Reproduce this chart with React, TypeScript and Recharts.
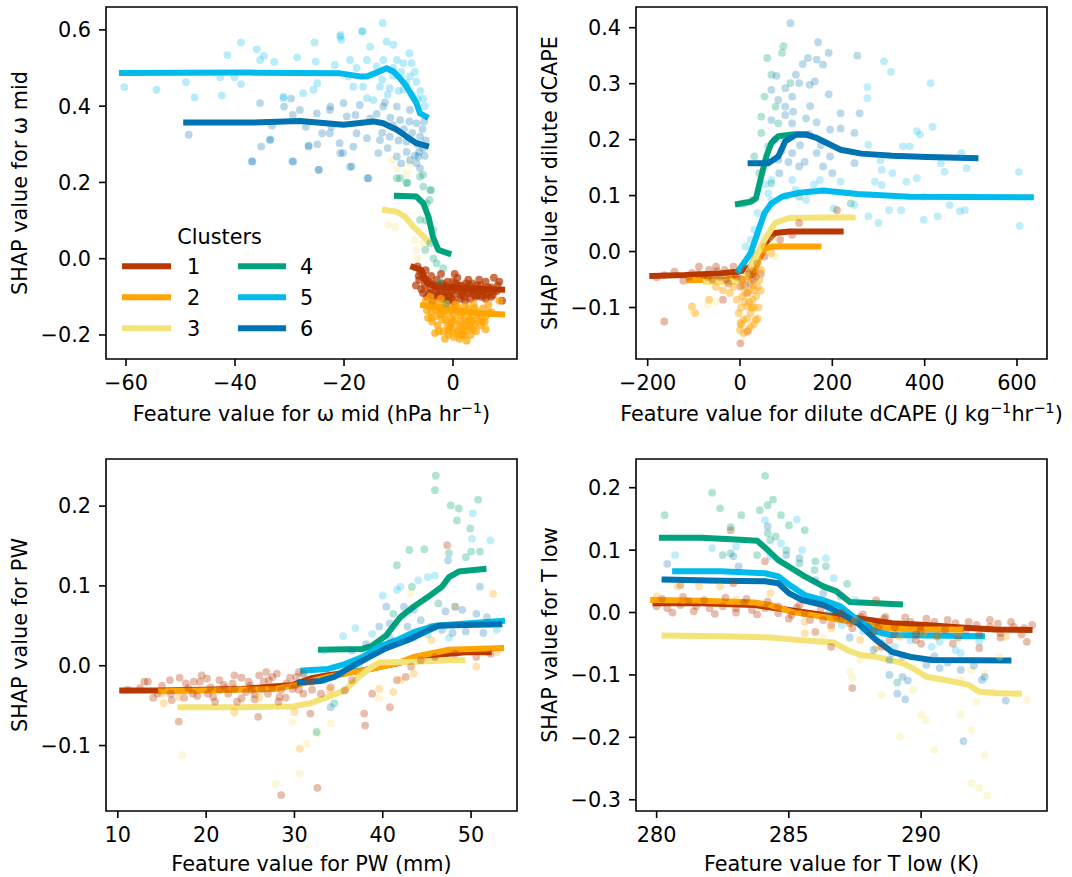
import React from 'react';
import { ComposedChart, Scatter, Line, XAxis, YAxis, ReferenceArea, Legend, Label } from 'recharts';

// ---------- clusters ----------
const CLUSTER_NAMES = ['1', '2', '3', '4', '5', '6'];
const CLUSTER_COLORS = ['#b83800', '#ffa400', '#f4e379', '#00a37b', '#00bbec', '#0073b3'];

// ---------- Panel 1 : omega mid ----------
const OMEGA_X_TICKS = [-60, -40, -20, 0];
const OMEGA_Y_TICKS = [-0.2, 0, 0.2, 0.4, 0.6];
const omegaPts1 = [-6.5,-0.02,-6,-0.035,-5.5,-0.05,-5,-0.03,-4.5,-0.06,-4,-0.045,-3.5,-0.07,-3,-0.055,-2.5,-0.08,-2,-0.065,-1.5,-0.09,-1,-0.06,-0.5,-0.075,0,-0.095,0.5,-0.065,1,-0.085,1.5,-0.07,2,-0.1,2.5,-0.075,3,-0.09,3.5,-0.065,4,-0.08,4.5,-0.095,5,-0.07,5.5,-0.085,6,-0.06,6.5,-0.09,7,-0.075,7.5,-0.05,8,-0.085,-5.5,-0.09,-4.8,-0.1,-3.8,-0.11,-2.8,-0.1,-1.8,-0.105,-0.8,-0.11,0.2,-0.115,1.2,-0.105,2.2,-0.11,3.2,-0.105,4.2,-0.1,5.2,-0.1,6.2,-0.095,-3.2,-0.085,-1.2,-0.08,0.8,-0.05,2.8,-0.055,4.8,-0.055,-6.8,-0.07,-5.8,-0.08,9,-0.11,8.5,-0.06,-2.2,-0.04,0.3,-0.04,-4.2,-0.08,-2.6,-0.095,-0.3,-0.085,1.7,-0.09,3.7,-0.085,5.7,-0.08,7.3,-0.095,-6.2,-0.055,-1.4,-0.07,2.4,-0.065,
  -6.3,-0.045,-5.2,-0.07,-4.4,-0.09,-3.6,-0.095,-2.4,-0.07,-1.6,-0.1,-0.6,-0.095,0.4,-0.08,1.4,-0.095,2.6,-0.09,3.4,-0.08,4.4,-0.07,5.4,-0.095,6.4,-0.075,7.4,-0.085,8.2,-0.07,0,-0.06,1,-0.07,2,-0.08,3,-0.07,4,-0.095,5,-0.085,6,-0.105,7,-0.1,-1,-0.1,-2,-0.09,-3,-0.075,-4,-0.065,-5,-0.055,-0.2,-0.105];
const omegaPts2 = [-5,-0.11,-4.5,-0.125,-4,-0.14,-3.5,-0.115,-3,-0.15,-2.5,-0.13,-2,-0.16,-1.5,-0.14,-1,-0.175,-0.5,-0.155,0,-0.185,0.5,-0.16,1,-0.19,1.5,-0.17,2,-0.2,2.5,-0.165,3,-0.18,3.5,-0.15,4,-0.17,4.5,-0.14,5,-0.155,5.5,-0.13,6,-0.15,6.5,-0.12,7,-0.14,-3.8,-0.165,-2.8,-0.175,-1.8,-0.19,-0.8,-0.2,0.2,-0.205,1.2,-0.21,2.2,-0.19,3.2,-0.2,4.2,-0.19,-1.2,-0.12,0.8,-0.125,2.8,-0.13,-2.2,-0.105,1.8,-0.14,3.8,-0.12,-0.2,-0.135,-4.2,-0.1,-1.5,-0.21,2.5,-0.215,8.5,-0.11,6,-0.185,-3.3,-0.195,-2.4,-0.145,-0.4,-0.17,1.4,-0.15,3.4,-0.165,5.4,-0.165,-4.6,-0.155,
  -4.8,-0.135,-4,-0.155,-3.2,-0.135,-2.6,-0.19,-2,-0.145,-1.4,-0.16,-0.6,-0.18,0,-0.165,0.6,-0.195,1.2,-0.175,1.8,-0.185,2.4,-0.175,3,-0.16,3.6,-0.185,4.4,-0.16,5,-0.175,5.8,-0.165,6.6,-0.14,-1,-0.135,0,-0.145,1,-0.14,2,-0.155,3,-0.14,4,-0.13,-2.5,-0.12,0.4,-0.12,2.2,-0.125,-0.8,-0.19,1.6,-0.2];
const omegaPts3 = [-11.9,0.089,-10.6,0.084,-10.3,0.237,-8.5,0.224,-7.0,0.049,-6.7,0.023,-5.45,0.04,-11.2,0.26,-8.0,0.25,-6.5,0.0];
const omegaPts4 = [-8.5,0.198,-10.3,0.211,-5.45,0.189,-4.2,0.18,-6.05,0.215,-4.8,0.145,-6.05,0.102,-3.6,0.075,-4.2,0.04,-5.1,0.023,-3.6,0.001,-1.8,-0.025,-2.4,-0.06,-1.2,-0.117,-3.0,-0.012,-9.7,0.211,-8.4,0.2,-5.5,0.22,-4.0,0.18,-4.3,0.154,-5.0,0.1];
const omegaPts5 = [-60.3,0.45,-54.4,0.443,-49.0,0.463,-47.4,0.423,-41.4,0.534,-42.7,0.476,-42.4,0.428,-38.9,0.567,-38.9,0.458,-40.1,0.476,-36.0,0.549,-35.4,0.521,-34.7,0.532,-32.8,0.516,-31.1,0.425,-28.6,0.528,-27.5,0.434,-25.6,0.443,-25.4,0.567,-25.2,0.517,-24.9,0.46,-21.7,0.508,-20.6,0.587,-20.5,0.574,-19.2,0.478,-16.7,0.596,-12.9,0.618,-20.7,0.582,-16.6,0.597,-12.2,0.569,-10.95,0.561,-15.2,0.556,-8.0,0.539,-15.8,0.521,-18.9,0.521,-12.8,0.521,-10.3,0.521,-9.1,0.513,-7.6,0.513,-17.7,0.5,-14.0,0.504,-10.95,0.5,-7.9,0.478,-6.7,0.464,-18.3,0.451,-16.5,0.451,-13.4,0.451,-11.6,0.447,-9.1,0.443,-15.8,0.421,-14.6,0.416,-31.1,0.421,-5.5,0.42,-5.2,0.4,-6.0,0.44,
  -13,0.47,-12,0.43,-11,0.48,-10,0.44,-9.5,0.49,-8.5,0.46,-7.5,0.43,-7,0.49,-6.5,0.42];
const omegaPts6 = [-48.5,0.325,-36.8,0.255,-35.2,0.294,-33.5,0.313,-33.2,0.349,-35.4,0.408,-31.0,0.399,-29.7,0.42,-29.4,0.377,-29.5,0.255,-28.1,0.39,-27.0,0.346,-26.5,0.297,-24.9,0.3,-24.6,0.233,-24.0,0.329,-22.5,0.399,-22.3,0.346,-20.8,0.303,-20.2,0.277,-18.6,0.242,-17.9,0.377,-15.7,0.211,-20.1,0.408,-17.1,0.403,-12.8,0.399,-10.3,0.399,-7.9,0.39,-22.6,0.39,-25.0,0.381,-19.5,0.373,-15.2,0.368,-9.7,0.364,-6.7,0.355,-22.6,0.329,-17.7,0.329,-15.8,0.316,-13.4,0.311,-11.6,0.32,-8.5,0.307,-6.05,0.32,-20.7,0.277,-18.3,0.294,-13.7,0.277,-10.3,0.268,-7.9,0.259,-6.4,0.268,-6.7,0.25,-6.05,0.237,-18.9,0.241,-15.5,0.211,-24.7,0.233,-26.5,0.294,-29.3,0.255,-33.6,0.311,-36.9,0.255,-5.5,0.29,-5.2,0.27,-6.2,0.28,-5.0,0.31,-5.6,0.34,-5.3,0.36,
  -13,0.33,-12,0.29,-11,0.35,-10,0.31,-9,0.34,-8.5,0.28,-7.5,0.33,-7,0.27,-6.5,0.3,-9.5,0.25,-11.5,0.37,-14,0.38,-12.5,0.41,-8,0.36];
const omegaLine1 = [-7.3,-0.022,-5.75,-0.03,-4.8,-0.064,-3,-0.073,2.5,-0.078,9,-0.081];
const omegaLine2 = [-5.5,-0.122,-2,-0.128,2,-0.138,5,-0.144,9,-0.146];
const omegaLine3 = [-12.5,0.128,-10.3,0.123,-8.8,0.11,-7.3,0.084,-6.05,0.067,-4.5,0.045];
const omegaLine4 = [-10.3,0.165,-6.7,0.163,-5.45,0.145,-4.5,0.11,-3.7,0.058,-2.7,0.023,-0.85,0.014];
const omegaLine5 = [-60.75,0.487,-37.2,0.488,-20.7,0.486,-17.1,0.478,-15.8,0.478,-14,0.488,-12.2,0.4995,-10.95,0.491,-9.7,0.473,-8.5,0.451,-6.7,0.408,-6.05,0.381,-5.0,0.373];
const omegaLine6 = [-48.95,0.357,-37.2,0.357,-28.1,0.361,-20.1,0.351,-14.6,0.36,-12.8,0.355,-10.3,0.338,-8.5,0.32,-6.7,0.303,-4.95,0.296];

// ---------- Panel 2 : dilute dCAPE ----------
const DCAPE_X_TICKS = [-200, 0, 200, 400, 600];
const DCAPE_Y_TICKS = [-0.1, 0, 0.1, 0.2, 0.3, 0.4];
const dcapePts1 = [-164,-0.042,-142,-0.036,-123,-0.052,-104,-0.038,-89,-0.027,-78,-0.042,-67,-0.033,-52,-0.027,-44,-0.045,-33,-0.033,-25,-0.057,-14,-0.027,-7,-0.045,1,-0.063,12,-0.03,16,-0.074,23,-0.057,34,-0.045,38,-0.021,-164,-0.125,-37,-0.086,1,-0.164,16,-0.143,53,-0.009,87,0.021,113,0.03,128,0.051,210,0.074,-180,-0.046,-60,-0.05,-20,-0.04,5,-0.05,28,-0.035,
  -10,-0.04,-30,-0.05,-50,-0.035,-70,-0.045,-90,-0.04,-110,-0.045,20,-0.04,30,-0.05,45,-0.04,10,-0.06];
const dcapePts2 = [-104,-0.098,-97,-0.11,-67,-0.086,-37,-0.069,-14,-0.063,-7,-0.086,-3,-0.11,1,-0.128,0,-0.14,8,-0.122,16,-0.098,23,-0.11,27,-0.086,31,-0.069,38,-0.063,34,-0.122,23,-0.134,8,-0.146,42,-0.051,46,-0.033,12,-0.074,-22,-0.074,-52,-0.063,53,0.009,68,-0.003,2,-0.1,20,-0.09,30,-0.1,5,-0.08,
  5,-0.06,10,-0.09,15,-0.12,20,-0.07,25,-0.1,30,-0.13,35,-0.08,40,-0.1,45,-0.07,3,-0.13,18,-0.14,28,-0.06,38,-0.12,12,-0.05];
const dcapePts3 = [-70,-0.095,-52,-0.089,-104,-0.104,76,-0.009,72,0.021,40,-0.02];
const dcapePts4 = [94,0.367,91,0.355,59,0.346,68,0.316,109,0.301,53,0.277,77,0.259,46,0.241,83,0.229,46,0.212,31,0.17,61,0.188,42,0.14,68,0.122,27,0.092,8,0.086,240,0.086,128,0.098];
const dcapePts5 = [312,0.34,327,0.321,413,0.301,276,0.294,276,0.274,417,0.223,383,0.215,390,0.209,278,0.191,353,0.188,368,0.188,304,0.163,307,0.146,330,0.14,435,0.158,443,0.143,480,0.176,491,0.149,604,0.142,292,0.125,307,0.119,360,0.125,383,0.131,218,0.125,173,0.128,113,0.128,68,0.128,61,0.104,143,0.092,203,0.077,248,0.083,323,0.074,349,0.074,398,0.098,454,0.083,476,0.072,487,0.074,398,0.057,428,0.063,278,0.063,300,0.051,606,0.046,68,0.092,38,0.069,31,0.039,23,0.021,12,0.009,100,0.1,120,0.11,160,0.12,55,0.12];
const dcapePts6 = [109,0.408,169,0.374,192,0.355,254,0.35,147,0.346,166,0.343,180,0.334,136,0.335,79,0.314,121,0.316,162,0.304,128,0.301,151,0.298,68,0.289,98,0.292,113,0.277,192,0.281,83,0.271,98,0.259,152,0.26,115,0.25,98,0.244,218,0.247,259,0.247,143,0.238,68,0.235,113,0.229,166,0.231,195,0.218,218,0.22,248,0.212,166,0.176,195,0.17,113,0.176,83,0.164,128,0.152,180,0.152,248,0.158,75,0.2,90,0.18,105,0.16,130,0.19,150,0.21,85,0.14,140,0.16,175,0.19,200,0.14,60,0.16];
const dcapeLine1 = [-190,-0.0435,-119,-0.042,-44,-0.039,-7,-0.036,8,-0.034,23,-0.027,38,-0.003,61,0.021,76,0.033,106,0.036,218,0.036];
const dcapeLine2 = [-110,-0.051,-30,-0.05,0,-0.048,20,-0.045,30,-0.04,40,-0.015,55,0.005,70,0.009,170,0.009];
const dcapeLine3 = [-74,-0.054,-7,-0.054,12,-0.045,31,-0.015,53,0.021,76,0.051,106,0.06,180,0.061,244,0.061];
const dcapeLine4 = [-4.5,0.085,23,0.089,34.5,0.095,46,0.134,57,0.17,68,0.194,83,0.206,113,0.209,143,0.209];
const dcapeLine5 = [-3,-0.034,8,-0.021,23,-0.003,38,0.033,53,0.069,68,0.086,91,0.098,128,0.105,180,0.109,255,0.103,368,0.098,630,0.097];
const dcapeLine6 = [23,0.158,61,0.158,83,0.17,98,0.197,121,0.209,143,0.209,166,0.203,188,0.194,218,0.182,263,0.175,330,0.171,405,0.169,510,0.167];

// ---------- Panel 3 : PW ----------
const PW_X_TICKS = [10, 20, 30, 40, 50];
const PW_Y_TICKS = [-0.1, 0, 0.1, 0.2];
const pwPts1 = [11.1,-0.03,13.4,-0.02,15.9,-0.018,16.1,-0.043,16.9,-0.07,17.7,-0.022,18.5,-0.035,20.1,-0.016,20.8,-0.039,22.0,-0.024,23.2,-0.012,24.0,-0.041,24.8,-0.02,25.9,-0.064,26.3,-0.029,27.5,-0.014,28.3,-0.039,28.5,-0.162,29.1,-0.022,30.2,-0.014,31.0,-0.01,31.8,-0.06,32.6,-0.153,33.0,-0.035,34.1,-0.027,35.7,-0.031,36.5,-0.018,37.9,-0.06,38.0,-0.075,38.8,-0.035,40.8,-0.052,41.6,-0.018,42.6,-0.014,43.2,-0.001,44.3,0.007,45.9,0.011,47.3,0.151,48.2,0.015,50.6,0.011,52.2,0.015,19.3,-0.02,23.2,-0.029,29.8,-0.029,27.1,-0.018,12.5,-0.028,14.5,-0.035,21.5,-0.03,25.5,-0.036,30.5,-0.03,32,-0.02,
  13,-0.02,14,-0.04,15,-0.025,16,-0.035,17,-0.015,17.5,-0.04,18,-0.028,19,-0.038,19.5,-0.012,20.5,-0.027,21,-0.045,21.5,-0.018,22.5,-0.035,23,-0.022,23.5,-0.045,24,-0.015,24.5,-0.033,25,-0.025,25.5,-0.042,26,-0.012,26.5,-0.02,27,-0.035,27.5,-0.027,28,-0.01,28.5,-0.03,29,-0.04,29.5,-0.015,30,-0.025,30.5,-0.008,31,-0.035,31.5,-0.02,32,-0.03,28.2,-0.045,26.8,-0.008,25.2,-0.03,22.2,-0.028,20.2,-0.035,18.6,-0.02];
const pwPts2 = [15,-0.035,15.2,-0.047,16.9,-0.039,23.2,-0.058,30.0,-0.058,30.6,-0.104,39.6,-0.029,41.2,-0.033,42,-0.018,43.5,-0.01,45.5,0.032,48.2,0.074,52.5,0.09,52.9,0.017,50.6,-0.001,26,-0.04,34,-0.03];
const pwPts3 = [17.3,-0.112,23.2,-0.059,29.8,-0.07,27.9,-0.148,31.4,-0.098,32.6,-0.085,34.1,-0.072,43.2,0.091,39.6,-0.04,30.6,-0.135];
const pwPts4 = [46.0,0.238,45.9,0.22,47.7,0.201,48.6,0.197,48.4,0.182,50.8,0.208,49.9,0.172,43.0,0.145,44.7,0.146,41.6,0.126,47.5,0.141,50.0,0.143,51.0,0.143,49.4,0.136,43.3,0.099,41.2,0.065,34.5,-0.047,32.5,-0.083,46.3,0.078];
const pwPts5 = [50.2,0.191,50.1,0.159,52.2,0.157,40.0,0.088,41.6,0.095,42,0.099,44,0.107,45.1,0.111,45.9,0.113,36.9,0.047,35.5,0.037,38.8,0.04,33.4,0.019,31.1,-0.01,37.3,-0.001,42,0.031,45.1,0.039,52.9,0.045,47.5,0.035];
const pwPts6 = [47.4,0.132,51.0,0.099,40.4,0.074,42.4,0.074,43.5,0.07,47.1,0.068,48.2,0.074,49,0.07,50.6,0.065,51.8,0.061,39.6,0.049,40.8,0.053,42.8,0.049,44.3,0.057,45.5,0.049,46.7,0.045,47.9,0.041,49.4,0.043,51.4,0.041,36.5,0.019,38.1,0.027,40.8,0.035,43.5,0.035,33.4,-0.018,34.1,-0.052,35.3,-0.01];
const pwLine1 = [10.5,-0.031,15,-0.031,24,-0.029,29.8,-0.024,31.8,-0.016,33.8,-0.012,37.7,-0.006,41.6,0.003,45.5,0.013,49.4,0.017,52,0.017];
const pwLine2 = [14.9,-0.032,20,-0.031,27.9,-0.029,30.2,-0.024,33.8,-0.014,37.7,-0.006,41.6,0.003,43.5,0.011,47.5,0.02,53.4,0.022];
const pwLine3 = [17.1,-0.052,24,-0.052,29.8,-0.051,31.8,-0.047,33.8,-0.039,35.7,-0.031,37.3,-0.014,38.8,-0.001,39.6,0.004,43.5,0.005,47.5,0.007,49,0.007];
const pwLine4 = [33,0.02,37.7,0.021,38.8,0.025,40.4,0.038,42,0.061,43.5,0.074,45.1,0.086,46.7,0.099,47.5,0.111,48.6,0.118,51.4,0.121];
const pwLine5 = [31,-0.006,33.8,-0.004,35.7,0.002,37.7,0.011,39.6,0.024,41.6,0.032,43.5,0.042,45.9,0.05,49.4,0.053,53.5,0.056];
const pwLine6 = [30.6,-0.021,33,-0.019,34.5,-0.014,36.5,-0.001,38.5,0.011,40.4,0.022,42.8,0.032,44.7,0.042,46.3,0.05,49.4,0.051,53.2,0.052];

// ---------- Panel 4 : T low ----------
const TLOW_X_TICKS = [280, 285, 290];
const TLOW_Y_TICKS = [-0.3, -0.2, -0.1, 0, 0.1, 0.2];
const tlowPts1 = [280.0,0.01,280.4,0.007,280.9,0.012,280.9,0.044,281.5,0.01,282.0,0.007,282.5,0.01,282.9,0.047,282.8,0.132,283.0,0.007,283.6,0.004,284.1,0.007,284.1,0.082,284.6,-0.001,285.1,-0.004,285.6,-0.001,286.0,-0.031,286.3,-0.012,286.6,-0.055,286.8,-0.007,287.3,-0.017,287.4,-0.121,287.7,-0.007,288.3,-0.015,288.5,-0.055,288.65,-0.007,289.0,-0.023,289.6,-0.015,289.96,-0.023,290.5,-0.015,290.9,-0.028,291.3,-0.017,291.7,-0.028,292.1,-0.02,292.2,-0.057,292.6,-0.023,293.0,-0.033,293.5,-0.023,293.9,-0.025,294.0,-0.047,288.3,0.02,289.8,-0.044,288.4,-0.023,281.2,0.018,283.3,0.016,285.3,0.008,287.0,-0.01,290.0,-0.03,292.9,-0.018,
  280.2,0.022,280.6,0.0,281.0,0.025,281.4,0.002,281.8,0.02,282.2,-0.002,282.6,0.024,283.0,0.0,283.4,0.022,283.8,-0.003,284.2,0.018,284.6,0.01,285.0,-0.01,285.4,0.012,285.8,-0.012,286.2,0.005,286.6,-0.02,287.0,0.0,287.4,-0.025,287.8,-0.003,288.2,-0.03,288.6,-0.01,289.0,-0.035,289.4,-0.008,289.8,-0.035,290.2,-0.01,290.6,-0.038,291.0,-0.012,291.4,-0.04,291.8,-0.015,292.2,-0.035,292.6,-0.012,293.0,-0.04,293.4,-0.015,293.8,-0.035,294.2,-0.02,288.8,-0.045,290.0,-0.05,291.2,-0.05];
const tlowPts2 = [280.0,0.026,280.8,0.042,281.6,0.042,282.4,0.042,284.3,0.031,285.6,-0.015,285.6,-0.033,286.6,-0.025,287.5,-0.012,287.7,-0.044,288.3,-0.057,289.2,-0.039,290.1,-0.033,290.6,-0.039,291.4,-0.033,293.2,-0.039,281,0.02,283,0.02];
const tlowPts3 = [289.2,-0.199,290.5,-0.22,290.0,-0.164,290.2,-0.172,288.5,-0.132,287.3,-0.095,287.4,-0.105,289.7,-0.124,291.5,-0.163,291.9,-0.188,291.9,-0.092,291.9,-0.273,292.2,-0.281,292.5,-0.293,292.4,-0.228,292.1,-0.143,292.4,-0.097,294.0,-0.14,286.3,-0.041,287.7,-0.076,291.5,-0.108,292.7,-0.129,292.97,-0.071];
const tlowPts4 = [284.1,0.219,282.1,0.192,282.4,0.167,280.3,0.156,282.8,0.137,283.2,0.156,283.9,0.164,284.2,0.172,284.4,0.181,284.7,0.156,285.0,0.14,285.6,0.132,284.2,0.127,284.3,0.116,284.9,0.1,284.5,0.122,282.5,0.092,282.8,0.095,283.8,0.092,285.4,0.079,286.0,0.082,286.4,0.074,287.2,0.046,289.1,-0.112,285.97,0.068];
const tlowPts5 = [280.7,0.092,282.1,0.103,283.0,0.106,284.1,0.148,285.3,0.149,285.5,0.1,284.7,0.111,284.3,0.09,286.4,0.087,286.7,0.055,287.5,0.02,289.0,-0.055,289.6,-0.044,290.4,-0.055,291.3,-0.06,291.5,-0.065,292.2,-0.047,290.7,-0.047,286.5,0.0,287.0,-0.02,287.8,-0.03,288.6,-0.035];
const tlowPts6 = [280.4,0.078,282.9,0.09,283.1,0.074,284.2,0.138,285.4,0.087,284.9,0.092,286.0,0.052,286.3,0.031,286.95,0.026,287.7,-0.012,288.0,-0.023,288.5,-0.049,288.8,-0.076,288.8,-0.1,289.1,-0.13,289.4,-0.139,289.3,-0.103,289.5,-0.109,290.7,-0.089,290.2,-0.084,291.5,-0.092,291.6,-0.206,292.3,-0.108,292.4,-0.103,293.2,-0.141,287.3,-0.04,288.2,-0.06,288.9,-0.065,289.3,-0.07,290.5,-0.07,291.0,-0.08,292.0,-0.085];
const tlowLine1 = [279.96,0.015,281.7,0.015,283.7,0.012,285.0,0.004,286.3,-0.004,287.6,-0.009,288.9,-0.017,290.2,-0.02,291.5,-0.024,292.8,-0.027,294.1,-0.028];
const tlowLine2 = [279.87,0.02,281.7,0.019,283.7,0.016,284.3,0.012,285.1,0.001,286.3,-0.007,286.95,-0.012,287.7,-0.017,288.5,-0.024,289.6,-0.027,291.5,-0.027];
const tlowLine3 = [280.3,-0.037,282.4,-0.038,284.3,-0.04,285.6,-0.045,286.7,-0.048,287.2,-0.06,287.7,-0.068,288.3,-0.071,289.3,-0.081,289.8,-0.092,290.2,-0.103,290.9,-0.108,291.8,-0.116,292.2,-0.127,292.8,-0.129,293.7,-0.13];
const tlowLine4 = [280.2,0.12,281.7,0.12,283.0,0.117,283.8,0.115,284.2,0.1,284.6,0.084,285.1,0.071,285.6,0.058,286.3,0.042,286.8,0.034,287.3,0.017,288.3,0.015,289.2,0.013];
const tlowLine5 = [280.7,0.066,282.4,0.066,284.1,0.063,284.6,0.058,285.1,0.042,285.6,0.028,286.3,0.02,286.95,0.01,287.6,-0.012,288.3,-0.031,288.9,-0.036,290.2,-0.037,292.3,-0.038];
const tlowLine6 = [280.3,0.053,282.4,0.051,284.1,0.05,284.6,0.047,285.0,0.031,285.5,0.02,286.3,0.012,286.95,-0.001,287.6,-0.017,288.3,-0.044,288.9,-0.063,289.6,-0.071,290.4,-0.076,293.3,-0.077];

// ---------- helpers ----------
type Pt = { x: number; y: number };
const toPts = (a: number[]): Pt[] => {
  const out: Pt[] = [];
  for (let i = 0; i + 1 < a.length; i += 2) out.push({ x: a[i], y: a[i + 1] });
  return out;
};
const fmt = (dec: number) => (v: number) => {
  const s = Math.abs(v).toFixed(dec);
  return v < -1e-12 ? '\u2212' + s : s;
};

const FONT = 20.8;
const SUP = 14.6;
type Part = { t: string; sup?: boolean };

const renderParts = (parts: Part[]) => {
  const out: any[] = [];
  let raised = false;
  parts.forEach((p, i) => {
    if (p.sup && !raised) {
      out.push(<tspan key={i} dy={-8} fontSize={SUP}>{p.t}</tspan>);
      raised = true;
    } else if (!p.sup && raised) {
      out.push(<tspan key={i} dy={8} fontSize={FONT}>{p.t}</tspan>);
      raised = false;
    } else {
      out.push(<tspan key={i} fontSize={p.sup ? SUP : FONT}>{p.t}</tspan>);
    }
  });
  return out;
};

const dotShape = (color: string, opacity: number) => (props: any) => {
  const { cx, cy } = props;
  if (cx == null || cy == null) return <g />;
  return <circle cx={cx} cy={cy} r={3.9} fill={color} fillOpacity={opacity} stroke="none" />;
};

const LegendBox = () => {
  const rows = [0, 1, 2];
  return (
    <svg width={240} height={130} style={{ display: 'block', fontFamily: 'DejaVu Sans' }}>
      <text x={109.5} y={28.5} textAnchor="middle" fontSize={FONT} fill="#000">Clusters</text>
      {rows.map((r) => (
        <g key={r}>
          <line x1={12} x2={61} y1={51.3 + r * 31} y2={51.3 + r * 31} stroke={CLUSTER_COLORS[r]} strokeWidth={6} />
          <text x={77} y={51.3 + r * 31 + 7.5} fontSize={FONT} fill="#000">{CLUSTER_NAMES[r]}</text>
          <line x1={128} x2={176} y1={51.3 + r * 31} y2={51.3 + r * 31} stroke={CLUSTER_COLORS[r + 3]} strokeWidth={6} />
          <text x={190} y={51.3 + r * 31 + 7.5} fontSize={FONT} fill="#000">{CLUSTER_NAMES[r + 3]}</text>
        </g>
      ))}
    </svg>
  );
};

type PanelCfg = {
  left: number; top: number; width: number; height: number;
  margin: { top: number; right: number; bottom: number; left: number };
  xAxisH: number; xLabelOff: number;
  xDomain: [number, number]; yDomain: [number, number];
  xTicks: number[]; yTicks: number[]; xDec: number; yDec: number;
  pts: number[][]; lines: number[][]; opac: number[];
  xLabel: Part[]; yLabel: string; legend?: boolean;
};

const Panel = ({ c }: { c: PanelCfg }) => {
  const tickStyle = { fontSize: FONT, fill: '#000', fontFamily: 'DejaVu Sans' };
  const tickLine = { stroke: '#000', strokeWidth: 1.6 };
  return (
    <div style={{ position: 'absolute', left: c.left, top: c.top }}>
      <ComposedChart width={c.width} height={c.height} margin={c.margin}>
        <XAxis
          type="number" dataKey="x" domain={c.xDomain} ticks={c.xTicks} allowDataOverflow
          interval={0} tickFormatter={fmt(c.xDec)} tick={tickStyle} tickLine={tickLine}
          tickSize={7} tickMargin={9} axisLine={false} height={c.xAxisH}
          label={<Label content={(p: any) => {
            const vb = p.viewBox || {};
            return (
              <text x={vb.x + vb.width / 2} y={vb.y + c.xLabelOff + 7.5} textAnchor="middle" fill="#000" fontSize={FONT} style={{ fontFamily: 'DejaVu Sans' }}>
                {renderParts(c.xLabel)}
              </text>
            );
          }} />}
        />
        <YAxis
          type="number" dataKey="y" domain={c.yDomain} ticks={c.yTicks} allowDataOverflow
          interval={0} tickFormatter={fmt(c.yDec)} tick={tickStyle} tickLine={tickLine}
          tickSize={7} tickMargin={8} axisLine={false} width={106}
          label={<Label content={(p: any) => {
            const vb = p.viewBox || {};
            const cx = vb.x + 20;
            const cy = vb.y + vb.height / 2;
            return (
              <text x={cx} y={cy} dy="0.35em" textAnchor="middle" fill="#000" fontSize={FONT} transform={`rotate(-90 ${cx} ${cy})`} style={{ fontFamily: 'DejaVu Sans' }}>
                {c.yLabel}
              </text>
            );
          }} />}
        />
        {c.pts.map((arr, i) => (
          <Scatter key={'s' + i} name={'pts' + CLUSTER_NAMES[i]} data={toPts(arr)} fill={CLUSTER_COLORS[i]}
            shape={dotShape(CLUSTER_COLORS[i], c.opac[i])} isAnimationActive={false} legendType="none" />
        ))}
        {c.lines.map((arr, i) => (
          <Line key={'l' + i} name={CLUSTER_NAMES[i]} data={toPts(arr)} dataKey="y" type="linear"
            stroke={CLUSTER_COLORS[i]} strokeWidth={6} dot={false} activeDot={false}
            strokeLinecap="square" strokeLinejoin="round" isAnimationActive={false} />
        ))}
        <ReferenceArea x1={c.xDomain[0]} x2={c.xDomain[1]} y1={c.yDomain[0]} y2={c.yDomain[1]}
          fill="#fff" fillOpacity={0} stroke="#000" strokeWidth={1.6} strokeOpacity={1} ifOverflow="visible" />
        {c.legend ? (
          <Legend layout="horizontal" verticalAlign="middle" align="center"
            wrapperStyle={{ left: 110, top: 215, width: 240, height: 130 }}
            content={() => <LegendBox />} />
        ) : null}
      </ComposedChart>
    </div>
  );
};

const PANELS: PanelCfg[] = [
  {
    left: 0, top: 0, width: 530, height: 440,
    margin: { top: 7, right: 13, bottom: 0, left: 0 }, xAxisH: 81, xLabelOff: 54,
    xDomain: [-63.67, 11.74], yDomain: [-0.263, 0.66],
    xTicks: OMEGA_X_TICKS, yTicks: OMEGA_Y_TICKS, xDec: 0, yDec: 1,
    pts: [omegaPts1, omegaPts2, omegaPts3, omegaPts4, omegaPts5, omegaPts6],
    lines: [omegaLine1, omegaLine2, omegaLine3, omegaLine4, omegaLine5, omegaLine6],
    opac: [0.7, 0.7, 0.3, 0.3, 0.28, 0.28],
    xLabel: [{ t: 'Feature value for \u03c9 mid (hPa hr' }, { t: '\u22121', sup: true }, { t: ')' }],
    yLabel: 'SHAP value for \u03c9 mid', legend: true,
  },
  {
    left: 530, top: 0, width: 542, height: 440,
    margin: { top: 7, right: 25, bottom: 0, left: 0 }, xAxisH: 81, xLabelOff: 54,
    xDomain: [-225.3, 665], yDomain: [-0.192, 0.437],
    xTicks: DCAPE_X_TICKS, yTicks: DCAPE_Y_TICKS, xDec: 0, yDec: 1,
    pts: [dcapePts1, dcapePts2, dcapePts3, dcapePts4, dcapePts5, dcapePts6],
    lines: [dcapeLine1, dcapeLine2, dcapeLine3, dcapeLine4, dcapeLine5, dcapeLine6],
    opac: [0.35, 0.45, 0.3, 0.3, 0.25, 0.27],
    xLabel: [{ t: 'Feature value for dilute dCAPE (J kg' }, { t: '\u22121', sup: true }, { t: 'hr' }, { t: '\u22121', sup: true }, { t: ')' }],
    yLabel: 'SHAP value for dilute dCAPE',
  },
  {
    left: 0, top: 440, width: 530, height: 437,
    margin: { top: 19, right: 13, bottom: 0, left: 0 }, xAxisH: 66, xLabelOff: 52,
    xDomain: [8.66, 55.2], yDomain: [-0.182, 0.259],
    xTicks: PW_X_TICKS, yTicks: PW_Y_TICKS, xDec: 0, yDec: 1,
    pts: [pwPts1, pwPts2, pwPts3, pwPts4, pwPts5, pwPts6],
    lines: [pwLine1, pwLine2, pwLine3, pwLine4, pwLine5, pwLine6],
    opac: [0.33, 0.3, 0.3, 0.3, 0.25, 0.27],
    xLabel: [{ t: 'Feature value for PW (mm)' }],
    yLabel: 'SHAP value for PW',
  },
  {
    left: 530, top: 440, width: 542, height: 437,
    margin: { top: 19, right: 25, bottom: 0, left: 0 }, xAxisH: 66, xLabelOff: 52,
    xDomain: [279.22, 294.76], yDomain: [-0.318, 0.246],
    xTicks: TLOW_X_TICKS, yTicks: TLOW_Y_TICKS, xDec: 0, yDec: 1,
    pts: [tlowPts1, tlowPts2, tlowPts3, tlowPts4, tlowPts5, tlowPts6],
    lines: [tlowLine1, tlowLine2, tlowLine3, tlowLine4, tlowLine5, tlowLine6],
    opac: [0.33, 0.3, 0.3, 0.3, 0.25, 0.27],
    xLabel: [{ t: 'Feature value for T low (K)' }],
    yLabel: 'SHAP value for T low',
  },
];

export default function App() {
  return (
    <div style={{ position: 'absolute', left: 0, top: 0, width: 1072, height: 877, background: '#fff', fontFamily: 'DejaVu Sans', overflow: 'hidden' }}>
      {PANELS.map((c, i) => <Panel key={i} c={c} />)}
    </div>
  );
}
